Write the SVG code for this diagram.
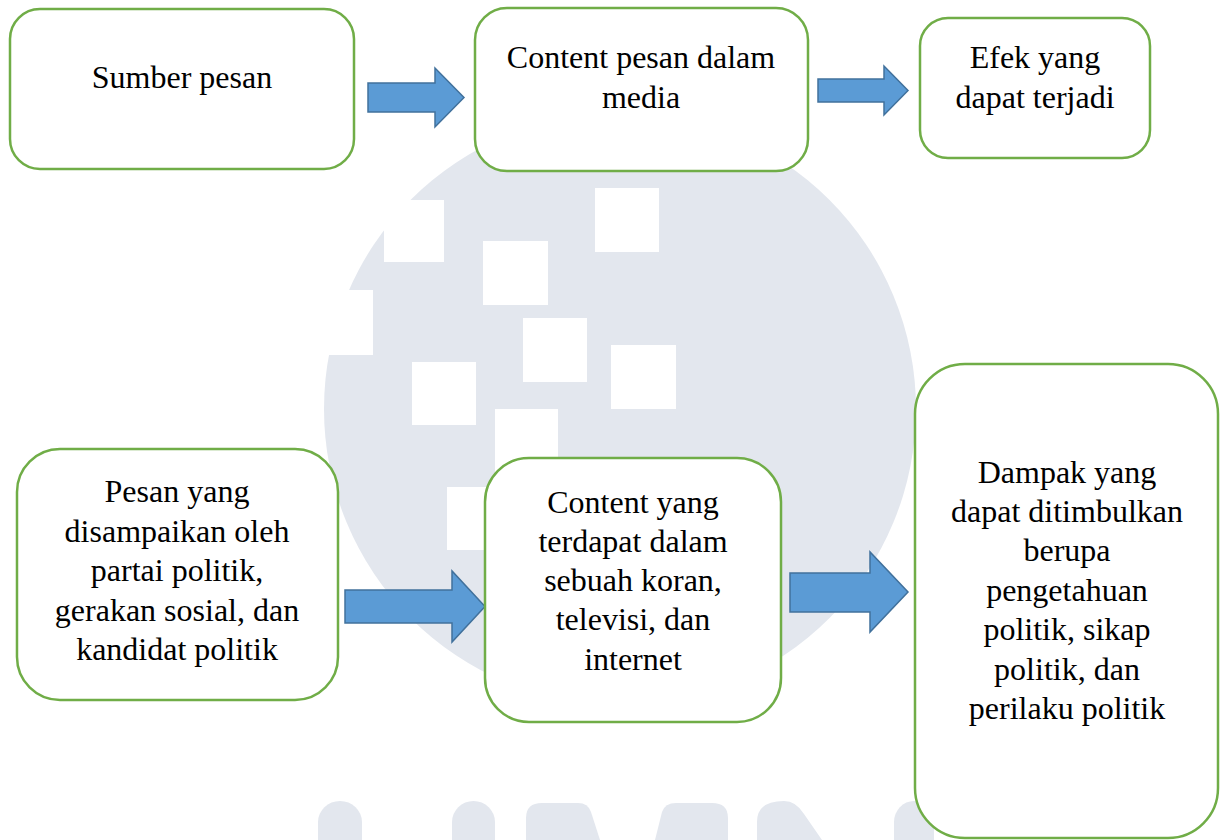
<svg xmlns="http://www.w3.org/2000/svg" width="1222" height="840" viewBox="0 0 1222 840">
  <style>
    .wm { fill: #E3E7EE; }
    .hole { fill: #FFFFFF; }
    .box { fill: #FFFFFF; stroke: #70AD47; stroke-width: 2.5; }
    .arrow { fill: #5B9BD5; stroke: #41719C; stroke-width: 1.5; stroke-linejoin: miter; }
    .label { font-family: "Liberation Serif", "Times New Roman", serif; font-size: 32px; fill: #000000; text-anchor: middle; }
  </style>
  <rect x="0" y="0" width="1222" height="840" fill="#FFFFFF"/>

  <g id="watermark">
    <circle class="wm" cx="620" cy="409" r="296"/>
    <rect class="hole" x="384" y="200" width="60" height="62"/>
    <rect class="hole" x="595" y="188" width="64" height="64"/>
    <rect class="hole" x="483" y="241" width="65" height="64"/>
    <rect class="hole" x="300" y="290" width="73" height="65"/>
    <rect class="hole" x="523" y="318" width="64" height="64"/>
    <rect class="hole" x="611" y="345" width="65" height="64"/>
    <rect class="hole" x="412" y="362" width="64" height="63"/>
    <rect class="hole" x="495" y="409" width="63" height="63"/>
    <rect class="hole" x="447" y="487" width="63" height="63"/>
    <path class="wm" d="M318,840 V822 A22,21 0 0 1 362,822 V840 Z"/>
    <path class="wm" d="M452,840 V822 A21.5,21 0 0 1 495,822 V840 Z"/>
    <path class="wm" d="M526,840 V818 Q526,803 542,803 H578 Q588,803 591,812 L600,840 Z"/>
    <path class="wm" d="M655,840 L662,812 Q665,803 676,803 H712 Q728,803 728,818 V840 Z"/>
    <path class="wm" d="M757,840 V822 Q757,801 784,801 Q796,801 804,814 L822,840 Z"/>
    <path class="wm" d="M894,840 V822 A20,21 0 0 1 934,822 V840 Z"/>
  </g>

  <g id="connectors">
    <path class="arrow" d="M368,83 H435 V68 L464,97.5 L435,127 V112 H368 Z"/>
    <path class="arrow" d="M818,79 H884 V66 L908,90.5 L884,115 V102 H818 Z"/>
    <path class="arrow" d="M345,590 H452 V571 L485,606.5 L452,642 V623 H345 Z"/>
    <path class="arrow" d="M790,573 H870 V552 L908,592 L870,632 V612 H790 Z"/>
  </g>

  <g id="node-sumber">
    <rect class="box" x="10" y="9" width="344" height="160" rx="30" ry="30"/>
    <text class="label" x="182" y="88">Sumber pesan</text>
  </g>

  <g id="node-content-media">
    <rect class="box" x="475" y="8" width="333" height="163" rx="32" ry="32"/>
    <text class="label" x="641" y="68">Content pesan dalam</text>
    <text class="label" x="641" y="108">media</text>
  </g>

  <g id="node-efek">
    <rect class="box" x="920" y="18" width="230" height="140" rx="28" ry="28"/>
    <text class="label" x="1035" y="68">Efek yang</text>
    <text class="label" x="1035" y="108">dapat terjadi</text>
  </g>

  <g id="node-pesan">
    <rect class="box" x="17" y="449" width="321" height="251" rx="43" ry="43"/>
    <text class="label" x="177" y="502">Pesan yang</text>
    <text class="label" x="177" y="541.5">disampaikan oleh</text>
    <text class="label" x="177" y="581">partai politik,</text>
    <text class="label" x="177" y="620.5">gerakan sosial, dan</text>
    <text class="label" x="177" y="660">kandidat politik</text>
  </g>

  <g id="node-content-koran">
    <rect class="box" x="485" y="458" width="296" height="264" rx="44" ry="44"/>
    <text class="label" x="633" y="512.5">Content yang</text>
    <text class="label" x="633" y="551.8">terdapat dalam</text>
    <text class="label" x="633" y="591">sebuah koran,</text>
    <text class="label" x="633" y="630.3">televisi, dan</text>
    <text class="label" x="633" y="669.6">internet</text>
  </g>

  <g id="node-dampak">
    <rect class="box" x="915" y="364" width="303" height="474" rx="50" ry="50"/>
    <text class="label" x="1067" y="482.5">Dampak yang</text>
    <text class="label" x="1067" y="521.9">dapat ditimbulkan</text>
    <text class="label" x="1067" y="561.3">berupa</text>
    <text class="label" x="1067" y="600.7">pengetahuan</text>
    <text class="label" x="1067" y="640.1">politik, sikap</text>
    <text class="label" x="1067" y="679.5">politik, dan</text>
    <text class="label" x="1067" y="718.9">perilaku politik</text>
  </g>
</svg>
